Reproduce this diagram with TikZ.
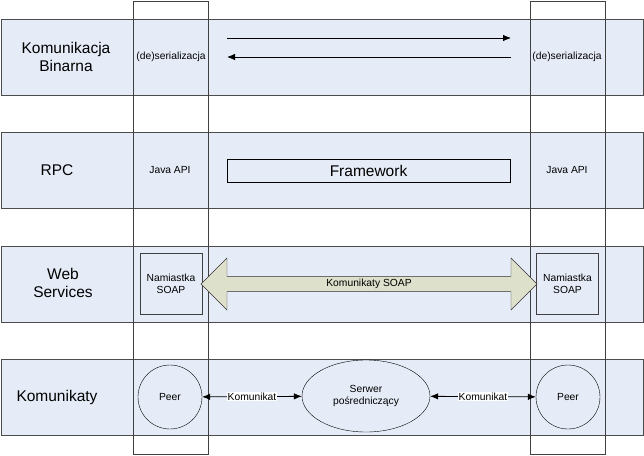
\documentclass[tikz,border=0pt]{standalone}
\usepackage{fontspec}
\setmainfont{Liberation Sans}
\usetikzlibrary{positioning, arrows.meta, shapes.geometric, shapes.arrows}

\definecolor{bandfill}{RGB}{230,236,247}
\definecolor{soapfill}{RGB}{221,224,203}

\begin{document}
\begin{tikzpicture}[
    x=1pt, y=-1pt,
    band/.style={draw=black!70, fill=bandfill, thick, minimum width=642pt, minimum height=76pt, inner sep=0pt},
    column/.style={draw=black!75, thick, minimum width=75pt, minimum height=453pt, inner sep=0pt},
    layer/.style={align=center, font=\fontsize{15.5}{18}\selectfont},
    small/.style={align=center, font=\fontsize{10.3}{12}\selectfont},
    stub/.style={small, draw=black!75, thick, minimum width=62pt, minimum height=61pt, inner sep=0pt},
    peer/.style={small, draw, circle, minimum size=64pt, inner sep=0pt},
    arrow/.style={-{Latex[length=8pt, width=6.5pt]}, thick},
    biarrow/.style={{Latex[length=8pt, width=6.5pt]}-{Latex[length=8pt, width=6.5pt]}, thick},
    msg/.style={small, fill=white, inner sep=0.5pt}
]
    \useasboundingbox (0,0) rectangle (644,455);

    % BANDS
    \node[band] (binarna) at (322,57) {};
    \node[band] (rpc) at (322,170.5) {};
    \node[band] (ws) at (322,284) {};
    \node[band] (kom) at (322,397.5) {};

    % COLUMNS
    \node[column] (leftcol) at (170.5,227.5) {};
    \node[column] (rightcol) at (567.5,227.5) {};

    % LAYER NAMES
    \node[layer] (binarna_lbl) at (66,57) {Komunikacja\\Binarna};
    \node[layer] (rpc_lbl) at (57,170) {RPC};
    \node[layer] (ws_lbl) at (63,283) {Web\\Services};
    \node[layer] (kom_lbl) at (57,397) {Komunikaty};

    % KOMUNIKACJA BINARNA
    \node[small] (ser_l) at (171,57) {(de)serializacja};
    \node[small] (ser_r) at (567,57) {(de)serializacja};
    \coordinate (top_l) at (227,38);
    \coordinate (top_r) at (511,38);
    \coordinate (bot_l) at (227,57);
    \coordinate (bot_r) at (511,57);
    \draw[arrow] (top_l) -- (top_r);
    \draw[arrow] (bot_r) -- (bot_l);

    % RPC
    \node[small] (api_l) at (170,170) {Java API};
    \node[small] (api_r) at (567,170) {Java API};
    \node[draw, thick, minimum width=283pt, minimum height=23pt, inner sep=0pt,
          font=\fontsize{15.5}{18}\selectfont] (framework) at (368.5,170.5) {Framework};

    % WEB SERVICES
    \node[stub] (stub_l) at (171,283.5) {Namiastka\\SOAP};
    \node[stub] (stub_r) at (567.5,283.5) {Namiastka\\SOAP};
    \node[small, draw=black!80, fill=soapfill, double arrow, double arrow head extend=18pt,
          minimum height=336pt, minimum width=52pt, inner ysep=2.5pt, inner xsep=0pt]
          (soap) at (369,284) {Komunikaty SOAP};

    % KOMUNIKATY
    \node[peer] (peer_l) at (170,397) {Peer};
    \node[small, draw, ellipse, minimum width=128pt, minimum height=72pt, inner sep=0pt]
          (serwer) at (366,396) {Serwer\\pośredniczący};
    \node[peer] (peer_r) at (568,397) {Peer};

    \draw[biarrow] (peer_l) -- node[msg] {Komunikat} (serwer);
    \draw[biarrow] (serwer) -- node[msg] {Komunikat} (peer_r);

\end{tikzpicture}
\end{document}
